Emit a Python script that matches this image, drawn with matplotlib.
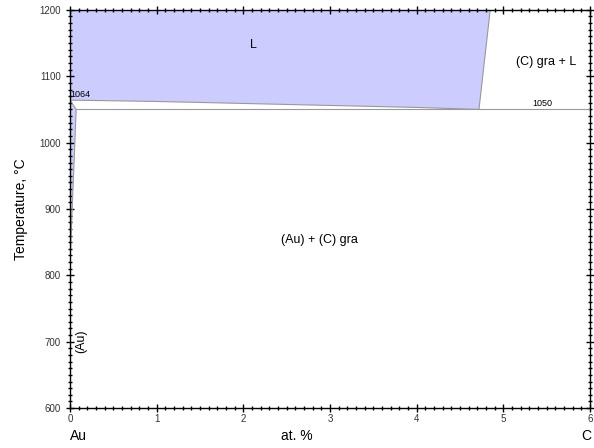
import matplotlib.pyplot as plt
from matplotlib.ticker import MultipleLocator

plt.rcParams['font.family'] = ['Liberation Sans', 'DejaVu Sans']

# Межі фаз (ат. % C, температура °C)
liq_x = [0.0, 1.0, 2.0, 3.0, 4.0, 4.72]
liq_t = [1064, 1062, 1059, 1056, 1053, 1050]
liq_top_x = [4.72, 4.85]
liq_top_t = [1050, 1200]
au_x = [0.0, 0.07, 0.0]
au_t = [1064, 1050, 820]
eut_x = [0.07, 6.0]
eut_t = [1050, 1050]

fill_c = '#ccccff'
line_c = '#999999'

fig = plt.figure(figsize=(5.94, 4.48), dpi=100)
ax = fig.add_axes([0.118, 0.089, 0.875, 0.889])

# Область L
px = [0.0, liq_top_x[1], liq_top_x[0]] + liq_x[::-1][1:]
pt = [1200, liq_top_t[1], liq_top_t[0]] + liq_t[::-1][1:]
ax.fill(px, pt, color=fill_c, lw=0)
ax.plot(liq_x, liq_t, color=line_c, lw=0.8)
ax.plot(liq_top_x, liq_top_t, color=line_c, lw=0.8)

# Область (Au)
ax.fill(au_x, au_t, color=fill_c, lw=0)
ax.plot(au_x, au_t, color=line_c, lw=0.8)

# Евтектика
ax.plot(eut_x, eut_t, color=line_c, lw=0.8)

ax.text(2.12, 1147, 'L', fontsize=9, ha='center', va='center')
ax.text(5.5, 1121, '(C) gra + L', fontsize=9, ha='center', va='center')
ax.text(5.45, 1052, '1050', fontsize=6.5, ha='center', va='bottom')
ax.text(0.0, 1066, '1064', fontsize=6.5, ha='left', va='bottom')
ax.text(2.88, 853, '(Au) + (C) gra', fontsize=9, ha='center', va='center')
ax.text(0.13, 700, '(Au)', fontsize=9, ha='center', va='center', rotation=90)

ax.set_xlim(0, 6)
ax.set_ylim(600, 1200)
ax.xaxis.set_major_locator(MultipleLocator(1))
ax.xaxis.set_minor_locator(MultipleLocator(0.1))
ax.yaxis.set_major_locator(MultipleLocator(100))
ax.yaxis.set_minor_locator(MultipleLocator(10))
ax.tick_params(which='both', top=True, right=True, direction='inout',
               labelsize=7, labelcolor='#333333', width=1)
ax.tick_params(which='major', length=6)
ax.tick_params(which='minor', length=3)
ax.tick_params(axis='x', pad=1)
for s in ax.spines.values():
    s.set_linewidth(1)

ax.set_ylabel('Temperature, °C', fontsize=10, labelpad=8)
fig.text(0.5, 0.018, 'at. %', fontsize=10, ha='center')
fig.text(0.118, 0.018, 'Au', fontsize=10, ha='left')
fig.text(0.978, 0.018, 'C', fontsize=10, ha='left')

fig.savefig('out.png', dpi=100)
